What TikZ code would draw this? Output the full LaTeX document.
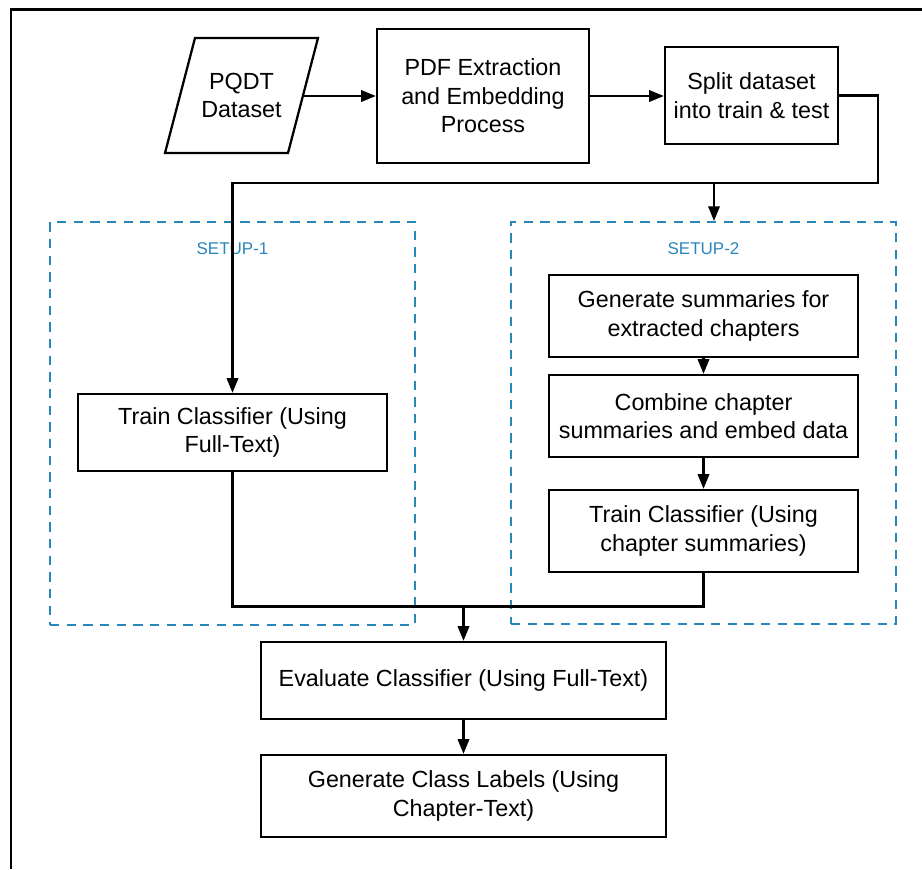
\documentclass[tikz,border=0pt]{standalone}
\usepackage{fontspec}
\setmainfont{Liberation Sans}
\usetikzlibrary{arrows.meta}
\definecolor{setupblue}{RGB}{41,134,186}
\begin{document}
\begin{tikzpicture}[x=0.75pt,y=-0.75pt,
  box/.style={draw, line width=1.7pt, align=center, inner sep=0pt,
    font=\fontsize{17.5}{21.4}\selectfont},
  txt/.style={align=center, inner sep=0pt, font=\fontsize{17.5}{21.4}\selectfont},
  conn/.style={line width=1.7pt},
  arr/.style={conn, -{Triangle[length=11pt,width=8.5pt]}},
  setupbox/.style={draw=setupblue, line width=1.5pt, dash pattern=on 7pt off 5.5pt, inner sep=0pt},
  setuplabel/.style={text=setupblue, font=\fontsize{12.75}{15}\selectfont, inner sep=0pt}]
\useasboundingbox (0,0) rectangle (922,869);
% frame (top and left edges visible)
\draw[line width=1.7pt] (11,869) -- (11,9.5) -- (922,9.5);

% setup regions
\node[setupbox, minimum width={365*0.75pt}, minimum height={403*0.75pt}] (s1) at (232.5,423.5) {};
\node[setupbox, minimum width={385*0.75pt}, minimum height={402*0.75pt}] (s2) at (703.5,423) {};
\node[setuplabel] (s1lab) at (232.5,249) {SETUP-1};
\node[setuplabel] (s2lab) at (703.5,249) {SETUP-2};

% top row
\coordinate (pa) at (195,38);
\coordinate (pb) at (318,38);
\coordinate (pc) at (288,153);
\coordinate (pd) at (165,153);
\coordinate (pqdtE) at (303,96);
\draw[line width=1.7pt, line join=miter] (pa) -- (pb) -- (pc) -- (pd) -- cycle;
\node[txt] (pqdt) at (241.5,95.5) {PQDT\\Dataset};
\node[box, minimum width={212*0.75pt}, minimum height={134*0.75pt}] (pdf) at (483,96) {PDF Extraction\\and Embedding\\Process};
\node[box, minimum width={173*0.75pt}, minimum height={97*0.75pt}] (split) at (751.5,95.5) {Split dataset\\into train \& test};

% setup 1
\node[box, minimum width={309*0.75pt}, minimum height={77*0.75pt}] (t1) at (232.5,432.5) {Train Classifier (Using\\Full-Text)};

% setup 2
\node[box, minimum width={309*0.75pt}, minimum height={82*0.75pt}] (gen) at (703.5,316) {Generate summaries for\\extracted chapters};
\node[box, minimum width={309*0.75pt}, minimum height={82*0.75pt}] (comb) at (703.5,416) {Combine chapter\\summaries and embed data};
\node[box, minimum width={309*0.75pt}, minimum height={82*0.75pt}] (t2) at (703.5,531) {Train Classifier (Using\\chapter summaries)};

% bottom
\node[box, minimum width={405*0.75pt}, minimum height={77*0.75pt}] (eval) at (463.5,680.5) {Evaluate Classifier (Using Full-Text)};
\node[box, minimum width={405*0.75pt}, minimum height={82*0.75pt}] (gcl) at (463.5,796) {Generate Class Labels (Using\\Chapter-Text)};

% connector points
\coordinate (c1) at (878,183);
\coordinate (c2) at (714,183);
\coordinate (j) at (463.5,606.5);

% connectors
\draw[arr] (pqdtE) -- (pqdtE -| pdf.west);
\draw[arr] (pdf) -- (pdf.east -| split.west);
\draw[arr] (split.east) -| (c1) -| (t1.north);
\draw[arr] (c2) -- (c2 |- s2.north);
\draw[arr] (gen) -- (comb);
\draw[arr] (comb) -- (t2);
\draw[conn] (t1.south) |- (j);
\draw[conn] (t2.south) |- (j);
\draw[arr] (j) -- (eval.north);
\draw[arr] (eval) -- (gcl);
\end{tikzpicture}
\end{document}
